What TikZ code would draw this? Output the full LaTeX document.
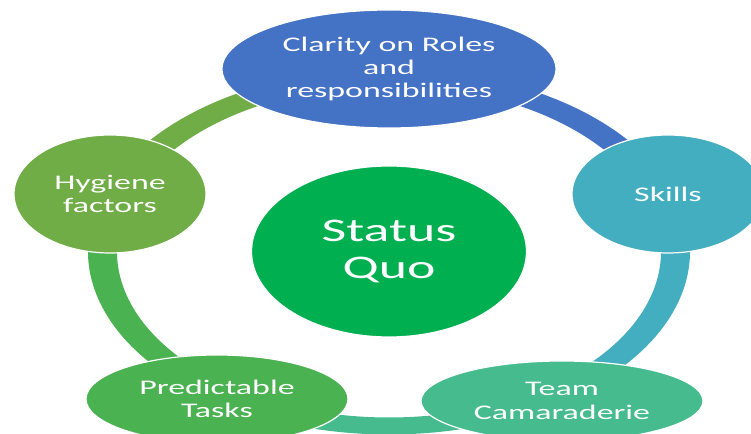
\documentclass[tikz,border=0pt]{standalone}
\usepackage{fontspec}
\usetikzlibrary{shapes.geometric}
\newfontfamily\cyclefont[FakeStretch=1.63]{Carlito}
\definecolor{roleblue}{HTML}{4472C4}
\definecolor{skillteal}{HTML}{44AEC1}
\definecolor{teamgreen}{HTML}{46BC8E}
\definecolor{taskgreen}{HTML}{4BB252}
\definecolor{hygieneolive}{HTML}{70AD47}
\definecolor{quogreen}{HTML}{00B050}

\begin{document}
\begin{tikzpicture}[
    x=0.5pt, y=0.5pt,
    part/.style={ellipse, draw=white, line width=0.6pt, inner sep=0pt, text=white, align=center, font=\cyclefont\fontsize{10.4}{11.7}\selectfont},
    hub/.style={part, font=\cyclefont\fontsize{16.5}{18.5}\selectfont}
]
    \useasboundingbox (0,0) rectangle (751,434);
    \clip (0,0) rectangle (751,434);
    \coordinate (mid) at (389,182.5);

    % Ring segments, each in the colour of the node it leaves
    \begin{scope}[shift={(mid)}]
      \fill[roleblue] (90:301 and 183) arc[start angle=90, end angle=18, x radius=301, y radius=183] -- (18:272 and 166) arc[start angle=18, end angle=90, x radius=272, y radius=166] -- cycle;
      \fill[skillteal] (18:301 and 183) arc[start angle=18, end angle=-54, x radius=301, y radius=183] -- (-54:272 and 166) arc[start angle=-54, end angle=18, x radius=272, y radius=166] -- cycle;
      \fill[teamgreen] (-54:301 and 183) arc[start angle=-54, end angle=-126, x radius=301, y radius=183] -- (-126:272 and 166) arc[start angle=-126, end angle=-54, x radius=272, y radius=166] -- cycle;
      \fill[taskgreen] (-126:301 and 183) arc[start angle=-126, end angle=-198, x radius=301, y radius=183] -- (-198:272 and 166) arc[start angle=-198, end angle=-126, x radius=272, y radius=166] -- cycle;
      \fill[hygieneolive] (162:301 and 183) arc[start angle=162, end angle=90, x radius=301, y radius=183] -- (90:272 and 166) arc[start angle=90, end angle=162, x radius=272, y radius=166] -- cycle;
    \end{scope}

    % Centre
    \node (quo) [hub, fill=quogreen, minimum width=137.5pt, minimum height=85.5pt] at (mid) {Status\\Quo};

    % Outer nodes, clockwise from the top
    \node (roles) [part, fill=roleblue, minimum width=167pt, minimum height=59pt] at (389,365) {Clarity on Roles\\and\\responsibilities};
    \node (skills) [part, fill=skillteal, minimum width=96pt, minimum height=59pt] at (668,240) {Skills};
    \node (team) [part, fill=teamgreen, minimum width=141pt, minimum height=40pt] at (562,33) {Team\\Camaraderie};
    \node (tasks) [part, fill=taskgreen, minimum width=131pt, minimum height=44pt] at (217,35) {Predictable\\Tasks};
    \node (hygiene) [part, fill=hygieneolive, minimum width=96pt, minimum height=59pt] at (110,240) {Hygiene\\factors};
\end{tikzpicture}
\end{document}
